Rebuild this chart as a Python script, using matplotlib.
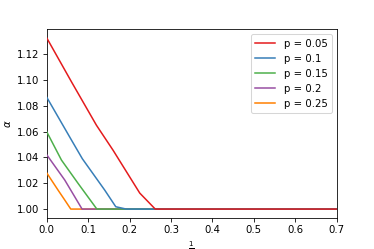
import matplotlib
matplotlib.use('Agg')
import matplotlib.pyplot as plt

# p values and the alpha curves (x = 1/n)
p_labels = ['p = 0.05', 'p = 0.1', 'p = 0.15', 'p = 0.2', 'p = 0.25']
colors = ['#e41a1c', '#377eb8', '#4daf4a', '#984ea3', '#ff7f00']

x_red = [0.0, 0.06, 0.12, 0.16, 0.2246, 0.262, 0.7]
y_red = [1.1327, 1.0985, 1.065, 1.0457, 1.0124, 1.0, 1.0]

x_blue = [0.0, 0.0597, 0.086, 0.14, 0.1667, 0.192, 0.7]
y_blue = [1.0867, 1.0535, 1.039, 1.0147, 1.0018, 1.0, 1.0]

x_green = [0.0, 0.0355, 0.0757, 0.121, 0.7]
y_green = [1.0599, 1.038, 1.0199, 1.0, 1.0]

x_purple = [0.0, 0.0435, 0.0853, 0.7]
y_purple = [1.0421, 1.0225, 1.0, 1.0]

x_orange = [0.0, 0.0273, 0.0435, 0.058, 0.7]
y_orange = [1.0280, 1.0147, 1.007, 1.0, 1.0]

xs = [x_red, x_blue, x_green, x_purple, x_orange]
ys = [y_red, y_blue, y_green, y_purple, y_orange]

dpi = 73
fig, ax = plt.subplots(figsize=(374 / dpi, 249 / dpi), dpi=dpi)
fig.subplots_adjust(left=0.125, right=0.9, top=0.882, bottom=0.126)
for i in range(len(xs)):
    # first curve ends up on top, like in the original
    ax.plot(xs[i], ys[i], color=colors[i], label=p_labels[i], zorder=10 - i)

ax.set_xlim(0, 0.7)
ax.set_xlabel(r'$\frac{1}{n}$')
ax.set_ylabel(r'$\alpha$')
ax.legend(loc='upper right')
fig.savefig('out.png', dpi=dpi)
